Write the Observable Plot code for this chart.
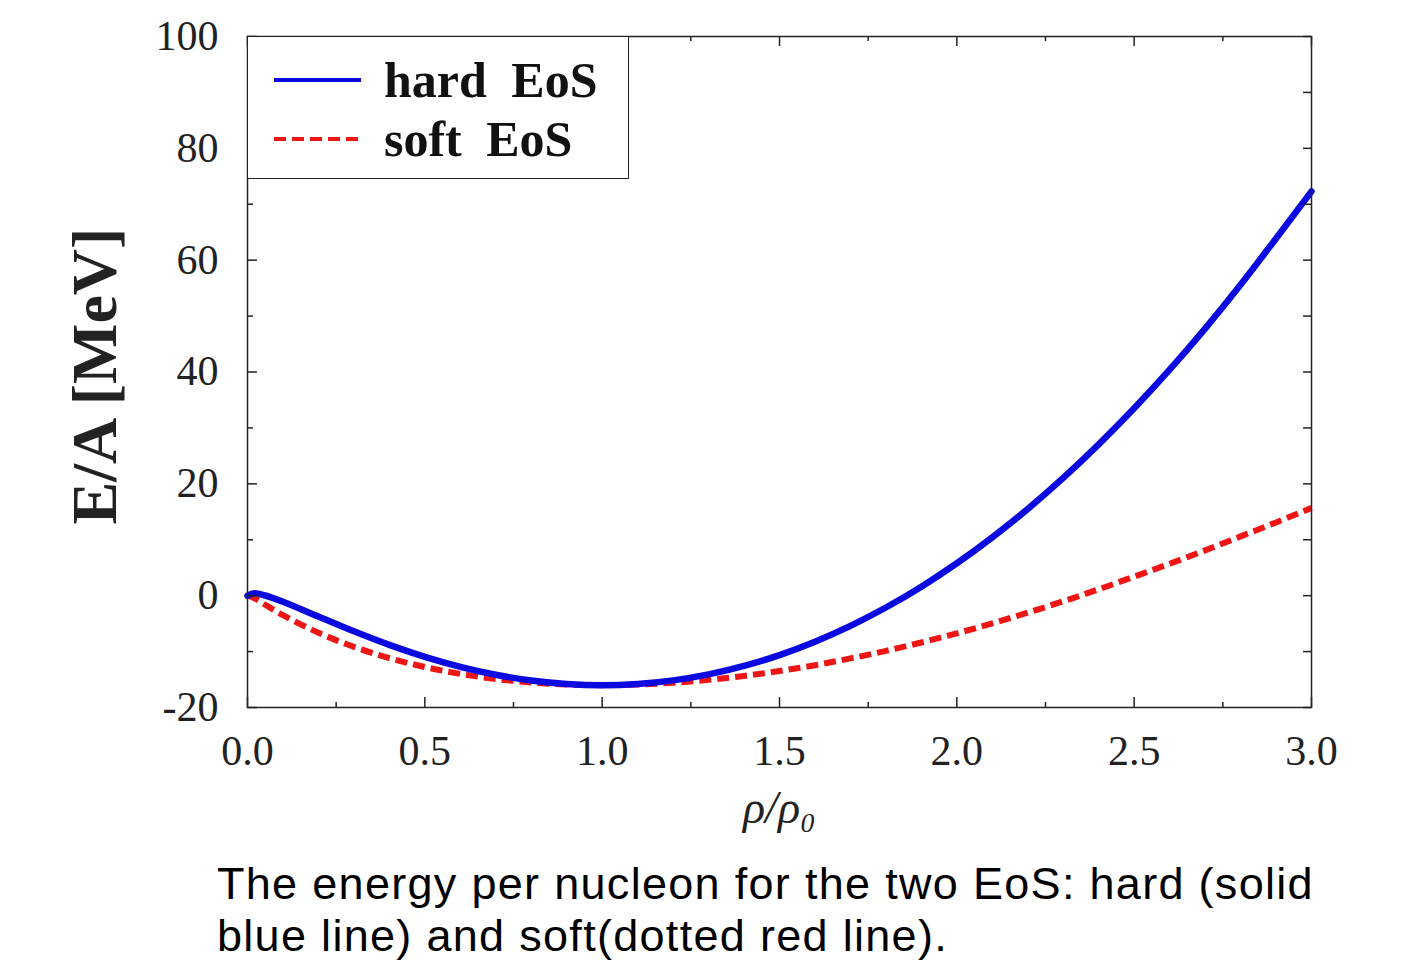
<!DOCTYPE html>
<html>
<head>
<meta charset="utf-8">
<script src="https://cdn.jsdelivr.net/npm/d3@7"></script>
<script src="https://cdn.jsdelivr.net/npm/@observablehq/plot@0.6"></script>
<style>
  body { margin: 0; background: #fff; }
  #wrap { position: relative; width: 1406px; height: 979px; background: #fff; }
  #legend { position: absolute; left: 247px; top: 36px; width: 382px; height: 143px;
    box-sizing: border-box; border: 1.5px solid #222; background: #fff; }
  #caption { position: absolute; left: 217px; top: 858px; font-family: "Liberation Sans", Arial, sans-serif;
    font-size: 45px; letter-spacing: 1.3px; line-height: 52px; color: #000; white-space: nowrap; }
</style>
</head>
<body>
<div id="wrap">
  <div id="chart"></div>
  <div id="legend"></div>
  <div id="caption">The energy per nucleon for the two EoS: hard (solid<br>blue line) and soft(dotted red line).</div>
</div>
<script>
// ---- data ----
const rho = [0, 0.02, 0.05, 0.1, 0.2, 0.3, 0.4, 0.5, 0.6, 0.7, 0.8, 0.9, 1.0, 1.1, 1.2, 1.3, 1.4, 1.5,
  1.6, 1.7, 1.8, 1.9, 2.0, 2.1, 2.2, 2.3, 2.4, 2.5, 2.6, 2.7, 2.8, 2.9, 3.0];
const hardEoS = [0, 0.44, 0.03, -1.09, -3.74, -6.38, -8.81, -10.94, -12.72, -14.14, -15.17, -15.79, -16.0,
  -15.79, -15.15, -14.08, -12.57, -10.62, -8.23, -5.40, -2.12, 1.61, 5.79, 10.43, 15.51, 21.05, 27.05,
  33.50, 40.41, 47.77, 55.60, 63.88, 72.3];
const softEoS = [0, -0.45, -1.63, -3.48, -6.63, -9.15, -11.16, -12.76, -13.99, -14.90, -15.53, -15.89, -16.0,
  -15.89, -15.57, -15.06, -14.35, -13.47, -12.43, -11.22, -9.87, -8.37, -6.73, -4.95, -3.04, -1.01, 1.14,
  3.41, 5.7, 8.1, 10.6, 13.1, 15.7];
const seriesNames = ["hard EoS", "soft EoS"];
const xMajor = [0, 0.5, 1.0, 1.5, 2.0, 2.5, 3.0];
const xMinor = [0.25, 0.75, 1.25, 1.75, 2.25, 2.75];
const yMajor = [-20, 0, 20, 40, 60, 80, 100];
const yMinor = [-10, 10, 30, 50, 70, 90];
const xLabel = "ρ/ρ₀";
const yLabel = "E/A [MeV]";

// ---- layout ----
const W = 1406, H = 860, ML = 247, MR = 95, MT = 36, MB = 153;
const FW = W - ML - MR, FH = H - MT - MB;
const blue = "#0a0ae0", red = "#ee1515";

const hardRows = rho.map((r, i) => ({x: r, y: hardEoS[i]}));
const softRows = rho.map((r, i) => ({x: r, y: softEoS[i]}));

const tickStyle = {stroke: "#222", strokeWidth: 1.5};
const chart = Plot.plot({
  width: W, height: H,
  marginLeft: ML, marginRight: MR, marginTop: MT, marginBottom: MB,
  style: {fontFamily: "'Liberation Serif', 'Times New Roman', serif", fontSize: "42px", color: "#222", background: "#fff"},
  x: {domain: [0, 3], nice: false},
  y: {domain: [-20, 100], nice: false},
  marks: [
    Plot.line(softRows, {x: "x", y: "y", stroke: red, strokeWidth: 6, strokeDasharray: "12,6",
      strokeLinecap: "butt", curve: "catmull-rom"}),
    Plot.line(hardRows, {x: "x", y: "y", stroke: blue, strokeWidth: 6.5, curve: "catmull-rom"}),
    // inward ticks
    Plot.tickX(xMajor, {x: d => d, insetTop: FH - 10, ...tickStyle}),
    Plot.tickX(xMinor, {x: d => d, insetTop: FH - 5, ...tickStyle}),
    Plot.tickX(xMajor, {x: d => d, insetBottom: FH - 10, ...tickStyle}),
    Plot.tickX(xMinor, {x: d => d, insetBottom: FH - 5, ...tickStyle}),
    Plot.tickY(yMajor, {y: d => d, insetRight: FW - 10, ...tickStyle}),
    Plot.tickY(yMinor, {y: d => d, insetRight: FW - 6, ...tickStyle}),
    Plot.tickY(yMajor, {y: d => d, insetLeft: FW - 8, ...tickStyle}),
    Plot.tickY(yMinor, {y: d => d, insetLeft: FW - 8, ...tickStyle}),
    Plot.axisX(xMajor, {tickSize: 0, tickPadding: 28, tickFormat: d => d.toFixed(1), label: null, fill: "#222"}),
    Plot.axisY(yMajor, {tickSize: 0, tickPadding: 29, tickFormat: d => String(d), label: null, fill: "#222"}),
    Plot.text([xLabel], {frameAnchor: "bottom", dy: 115, fontStyle: "italic", fontSize: 46, fill: "#222"}),
    Plot.text([yLabel], {frameAnchor: "left", textAnchor: "middle", dx: -152, dy: 4, rotate: -90,
      fontWeight: "bold", fontSize: 64, letterSpacing: 4, fill: "#222"}),
    Plot.frame({stroke: "#222", strokeWidth: 1.5})
  ]
});
document.getElementById("chart").appendChild(chart);

// legend
const ns = "http://www.w3.org/2000/svg";
const lg = document.createElementNS(ns, "svg");
lg.setAttribute("width", 380); lg.setAttribute("height", 140);
const entries = [
  {name: seriesNames[0], color: blue, dash: null, y: 43},
  {name: seriesNames[1], color: red, dash: "12,6", y: 102}
];
for (const e of entries) {
  const ln = document.createElementNS(ns, "line");
  ln.setAttribute("x1", 26); ln.setAttribute("x2", 113);
  ln.setAttribute("y1", e.y); ln.setAttribute("y2", e.y);
  ln.setAttribute("stroke", e.color); ln.setAttribute("stroke-width", 4);
  if (e.dash) ln.setAttribute("stroke-dasharray", e.dash);
  lg.appendChild(ln);
  const tx = document.createElementNS(ns, "text");
  tx.setAttribute("x", 136); tx.setAttribute("y", e.y + 17);
  tx.setAttribute("font-family", "'Liberation Serif', serif");
  tx.setAttribute("font-weight", "bold");
  tx.setAttribute("font-size", 50);
  tx.setAttribute("word-spacing", 12);
  tx.setAttribute("fill", "#111");
  tx.textContent = e.name;
  lg.appendChild(tx);
}
document.getElementById("legend").appendChild(lg);
</script>
</body>
</html>
